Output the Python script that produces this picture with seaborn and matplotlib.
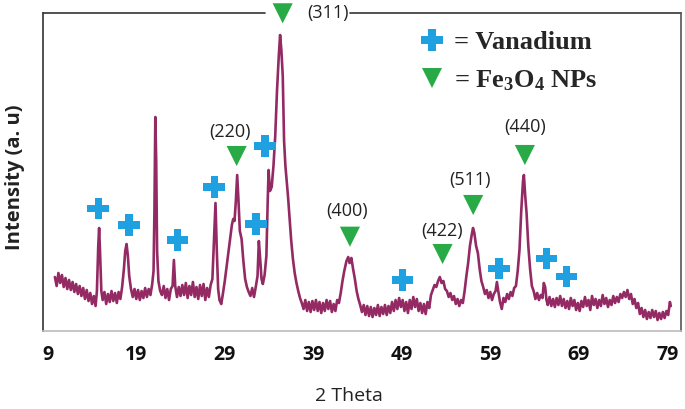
import matplotlib
matplotlib.use("Agg")
import matplotlib.pyplot as plt
import seaborn as sns
from matplotlib.lines import Line2D

sns.set_theme(style="white")
plt.rcParams["font.family"] = ["Open Sans", "DejaVu Sans"]
plt.rcParams["mathtext.fontset"] = "custom"
plt.rcParams["mathtext.rm"] = "Liberation Serif:bold"
plt.rcParams["mathtext.it"] = "Liberation Serif:bold"

# XRD pattern (2 theta in degrees, intensity in arbitrary units)
two_theta = [
    9.8, 10.0, 10.2, 10.4, 10.6, 10.8, 11.0, 11.2, 11.4, 11.6, 11.8, 12.0, 12.2, 12.4, 12.6,
    12.8, 13.0, 13.2, 13.4, 13.6, 13.8, 14.0, 14.2, 14.4, 14.55, 14.7, 14.8, 14.9, 15.05,
    15.2, 15.4, 15.6, 15.8, 16.0, 16.2, 16.4, 16.6, 16.8, 17.0, 17.2, 17.4, 17.6, 17.75,
    17.9, 18.05, 18.2, 18.4, 18.6, 18.8, 19.0, 19.2, 19.4, 19.6, 19.8, 20.0, 20.2, 20.4,
    20.6, 20.8, 20.95, 21.05, 21.15, 21.25, 21.35, 21.5, 21.7, 21.9, 22.1, 22.3, 22.5,
    22.7, 22.9, 23.1, 23.25, 23.4, 23.6, 23.8, 24.0, 24.2, 24.4, 24.6, 24.8, 25.0, 25.2,
    25.4, 25.6, 25.8, 26.0, 26.2, 26.4, 26.6, 26.8, 27.0, 27.2, 27.4, 27.6, 27.8, 27.95,
    28.1, 28.25, 28.4, 28.6, 28.8, 29.0, 29.2, 29.4, 29.6, 29.8, 29.95, 30.1, 30.25, 30.4,
    30.55, 30.7, 30.9, 31.1, 31.3, 31.5, 31.7, 31.9, 32.1, 32.3, 32.5, 32.7, 32.85, 33.0,
    33.15, 33.3, 33.5, 33.7, 33.85, 33.95, 34.1, 34.3, 34.5, 34.7, 34.9, 35.1, 35.25, 35.4,
    35.55, 35.7, 35.85, 36.0, 36.15, 36.3, 36.5, 36.7, 36.9, 37.1, 37.3, 37.5, 37.7, 37.9,
    38.1, 38.3, 38.5, 38.7, 38.9, 39.1, 39.3, 39.5, 39.7, 39.9, 40.1, 40.3, 40.5, 40.7,
    40.9, 41.1, 41.3, 41.5, 41.7, 41.9, 42.1, 42.3, 42.5, 42.75, 42.95, 43.1, 43.3, 43.5,
    43.7, 43.9, 44.1, 44.3, 44.5, 44.7, 44.9, 45.1, 45.3, 45.5, 45.7, 45.9, 46.1, 46.3,
    46.5, 46.7, 46.9, 47.1, 47.3, 47.5, 47.7, 47.9, 48.1, 48.3, 48.5, 48.7, 48.9, 49.1,
    49.3, 49.5, 49.7, 49.9, 50.1, 50.3, 50.5, 50.7, 50.9, 51.1, 51.3, 51.5, 51.7, 51.9,
    52.1, 52.3, 52.5, 52.7, 52.9, 53.1, 53.3, 53.5, 53.7, 53.9, 54.1, 54.3, 54.5, 54.7,
    54.9, 55.1, 55.3, 55.5, 55.7, 55.9, 56.1, 56.3, 56.5, 56.7, 56.9, 57.05, 57.2, 57.4,
    57.6, 57.8, 58.0, 58.2, 58.4, 58.6, 58.8, 59.0, 59.2, 59.4, 59.6, 59.75, 59.9, 60.1,
    60.3, 60.5, 60.7, 60.9, 61.1, 61.3, 61.5, 61.7, 61.9, 62.1, 62.3, 62.5, 62.7, 62.8,
    62.95, 63.1, 63.3, 63.5, 63.7, 63.9, 64.1, 64.3, 64.5, 64.7, 64.9, 65.05, 65.2, 65.35,
    65.5, 65.7, 65.9, 66.1, 66.3, 66.5, 66.7, 66.9, 67.1, 67.3, 67.5, 67.7, 67.9, 68.1,
    68.3, 68.5, 68.7, 68.9, 69.1, 69.3, 69.5, 69.7, 69.9, 70.1, 70.3, 70.5, 70.7, 70.9,
    71.1, 71.3, 71.5, 71.7, 71.9, 72.1, 72.3, 72.5, 72.7, 72.9, 73.1, 73.3, 73.5, 73.7,
    73.9, 74.1, 74.3, 74.5, 74.7, 74.9, 75.1, 75.3, 75.5, 75.7, 75.9, 76.1, 76.3, 76.5,
    76.7, 76.9, 77.1, 77.3, 77.5, 77.7, 77.9, 78.1, 78.3, 78.5, 78.7, 78.9, 79.1, 79.3, 79.4,
]
intensity = [
    54, 45, 58, 48, 56, 44, 53, 42, 51, 41, 49, 39, 47, 37, 45,
    35, 43, 32, 41, 30, 38, 27, 35, 25, 40, 85, 103, 80, 40,
    31, 39, 27, 37, 29, 40, 30, 38, 28, 39, 32, 44, 62, 80,
    87, 75, 55, 42, 34, 42, 32, 41, 31, 40, 33, 43, 34, 42,
    36, 47, 60, 120, 214, 170, 80, 50, 40, 36, 45, 33, 42,
    31, 42, 45, 71, 45, 34, 44, 35, 46, 36, 48, 33, 45, 36,
    49, 34, 44, 32, 46, 35, 47, 31, 43, 34, 46, 52, 95, 128,
    80, 42, 31, 27, 38, 50, 64, 78, 92, 106, 112, 110, 130, 156,
    130, 100, 92, 70, 52, 44, 39, 35, 43, 34, 44, 55, 90, 72,
    52, 47, 56, 75, 130, 161, 140, 144, 165, 195, 240, 275, 296, 280,
    255, 190, 165, 150, 134, 115, 91, 72, 58, 48, 40, 33, 28, 22,
    31, 20, 29, 19, 30, 21, 31, 20, 29, 18, 28, 20, 31, 22,
    30, 19, 27, 20, 31, 28, 38, 50, 60, 70, 74, 68, 73, 62,
    52, 40, 32, 26, 19, 26, 16, 25, 15, 24, 14, 23, 16, 26,
    15, 24, 17, 26, 16, 25, 18, 29, 20, 31, 22, 33, 24, 31,
    20, 29, 18, 31, 22, 34, 24, 32, 20, 28, 18, 27, 17, 29,
    23, 36, 41, 46, 44, 50, 54, 48, 50, 42, 40, 34, 38, 31,
    35, 27, 32, 25, 31, 28, 40, 55, 68, 85, 96, 103, 98, 85,
    78, 62, 50, 44, 37, 41, 33, 39, 31, 37, 40, 49, 40, 29,
    22, 33, 29, 37, 32, 39, 35, 43, 45, 60, 81, 120, 150, 156,
    135, 118, 85, 62, 45, 40, 32, 38, 31, 36, 33, 48, 44, 31,
    26, 34, 25, 32, 24, 33, 26, 35, 25, 32, 23, 30, 22, 33,
    25, 31, 21, 28, 20, 30, 24, 34, 25, 31, 21, 35, 26, 32,
    23, 31, 25, 36, 27, 33, 24, 31, 26, 35, 28, 34, 29, 37,
    33, 39, 34, 41, 32, 37, 27, 32, 23, 28, 17, 23, 14, 21,
    12, 19, 13, 21, 14, 20, 11, 18, 12, 19, 13, 20, 16, 29, 25,
]

# phase markers
vanadium_x = [14.7, 18.17, 23.67, 27.8, 32.52, 33.54, 49.1, 59.98, 65.36, 67.62]
vanadium_y = [122.7, 106, 91, 144, 107, 185, 51, 62.7, 72.7, 54.3]
fe3o4_x = [35.54, 30.34, 43.14, 53.61, 57.07, 62.91]
fe3o4_y = [317.7, 175, 94.3, 77, 126, 176]

# Miller index labels
hkl_labels = ["(311)", "(220)", "(400)", "(422)", "(511)", "(440)"]
hkl_x = [40.66, 29.6, 42.77, 53.5, 56.7, 62.9]
hkl_y = [318, 199.3, 120.3, 100, 151, 204.3]

tick_values = [9, 19, 29, 39, 49, 59, 69, 79]

LINE = "#942A63"
BLUE = "#1EA0E1"
GREEN = "#28AA46"

fig = plt.figure(figsize=(6.85, 4.09), dpi=100)
ax = fig.add_axes([0.0628, 0.1907, 0.9312, 0.7775])

sns.lineplot(x=two_theta, y=intensity, ax=ax, color=LINE, linewidth=1.9)
sns.scatterplot(x=vanadium_x, y=vanadium_y, ax=ax, marker="P", s=240,
                color=BLUE, edgecolor="none", zorder=5, clip_on=False)
sns.scatterplot(x=fe3o4_x, y=fe3o4_y, ax=ax, marker="v", s=210,
                color=GREEN, edgecolor="none", zorder=6, clip_on=False)

for lab, x, y in zip(hkl_labels, hkl_x, hkl_y):
    ax.text(x, y, lab, ha="center", va="center", fontsize=13, color="#222222",
            zorder=7, clip_on=False)

ax.set_xlim(8.46, 80.54)
ax.set_ylim(0, 318)
ax.set_xticks(tick_values)
ax.set_xticklabels([str(t) for t in tick_values], fontsize=14, fontweight="bold",
                   color="#111111")
ax.set_yticks([])
ax.tick_params(axis="x", length=0, pad=10)

ax.set_xlabel("2 Theta", fontsize=14, color="#222222")
ax.xaxis.set_label_coords(0.48, -0.175)
ax.set_ylabel("Intensity (a. u)", fontsize=14.5, fontweight="bold", color="#222222")
ax.yaxis.set_label_coords(-0.028, 0.485)

# spines: top one is interrupted by the (311) label
ax.spines["top"].set_visible(False)
ax.spines["left"].set_color("#333333")
ax.spines["right"].set_color("#555555")
ax.spines["bottom"].set_color("#bbbbbb")
for s in ["left", "right", "bottom"]:
    ax.spines[s].set_linewidth(1.2)
ax.plot([0, 0.348], [1, 1], transform=ax.transAxes, color="#333333", lw=1.2, clip_on=False)
ax.plot([0.482, 1], [1, 1], transform=ax.transAxes, color="#333333", lw=1.2, clip_on=False)

handles = [
    Line2D([], [], marker="P", color=BLUE, markersize=16, linestyle="none", markeredgewidth=0),
    Line2D([], [], marker="v", color=GREEN, markersize=14, linestyle="none", markeredgewidth=0),
]
ax.legend(handles, ["= Vanadium", "= Fe$_3$O$_4$ NPs"], loc="upper left",
          bbox_to_anchor=(0.568, 0.985), frameon=False, borderpad=0,
          handlelength=1.0, handletextpad=0.35, labelspacing=0.52,
          prop={"family": "Liberation Serif", "weight": "bold", "size": 19})

fig.savefig("out.png", dpi=100)
